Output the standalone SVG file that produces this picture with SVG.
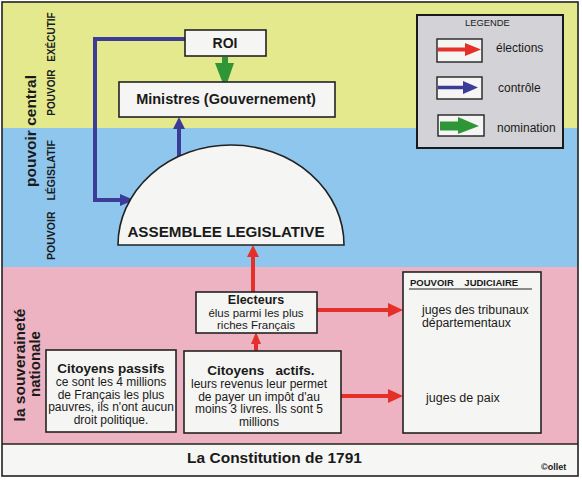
<svg xmlns="http://www.w3.org/2000/svg" width="582" height="480" viewBox="0 0 582 480">
<style>
text{font-family:"Liberation Sans",Arial,sans-serif;fill:#1a1a1a}
.b{font-weight:bold}
.box{fill:#f5f5f3;stroke:#222;stroke-width:1.6}
.red{stroke:#e5302a;stroke-width:4;fill:none}
.blue{stroke:#3a3c98;stroke-width:4;fill:none}
.green{stroke:#2f9638;stroke-width:6;fill:none}
.rh{fill:#e5302a}.bh{fill:#3a3c98}.gh{fill:#2f9638}
.t12{font-size:12px}
.mid{text-anchor:middle}
</style>
<!-- bands -->
<rect x="2" y="2" width="576" height="126" fill="#e4e98e"/>
<rect x="2" y="128" width="576" height="139" fill="#8fc6ee"/>
<rect x="2" y="267" width="576" height="177" fill="#edb3c2"/>
<rect x="2" y="444" width="576" height="32" fill="#f6f6f4"/>
<rect x="2" y="2" width="576" height="474" fill="none" stroke="#222" stroke-width="1.6"/>
<line x1="2" y1="444" x2="578" y2="444" stroke="#222" stroke-width="1.6"/>

<!-- side labels -->
<text class="b" font-size="15.5" text-anchor="middle" transform="translate(36,131) rotate(-90)">pouvoir central</text>
<text class="b" font-size="10" text-anchor="middle" word-spacing="5" transform="translate(55,64) rotate(-90)">POUVOIR EXÉCUTIF</text>
<text class="b" font-size="10.5" text-anchor="middle" word-spacing="8" transform="translate(55,200) rotate(-90)">POUVOIR LÉGISLATIF</text>
<text class="b" font-size="15.5" text-anchor="middle" transform="translate(25,365) rotate(-90)">la souveraineté</text>
<text class="b" font-size="15" text-anchor="middle" transform="translate(40,364) rotate(-90)">nationale</text>

<!-- connectors -->
<g id="connectors">
<path class="blue" d="M185,39 H95 V200 H121"/>
<path class="bh" d="M120,194 L134,200 L120,206 Z"/>
<path class="blue" d="M179,158 V128"/>
<path class="bh" d="M173,129 L179,117 L185,129 Z"/>
<path class="green" d="M225,57 V64"/>
<path class="gh" d="M215,63 L234,63 L225,89 Z"/>
<path class="red" d="M253,292 V256"/>
<path class="rh" d="M247,257 L253,245 L259,257 Z"/>
<path class="red" d="M256,351 V343"/>
<path class="rh" d="M251,344 L256,332 L261,344 Z"/>
<path class="red" d="M317,310 H389"/>
<path class="rh" d="M388,303 L403,310 L388,317 Z"/>
<path class="red" d="M341,396 H389"/>
<path class="rh" d="M388,389 L403,396 L388,403 Z"/>
</g>

<!-- ROI -->
<g id="roi">
<rect class="box" x="185" y="30" width="81" height="26"/>
<text class="b mid" font-size="14" x="225" y="48">ROI</text>
</g>
<!-- Ministres -->
<g id="ministres">
<rect class="box" x="119" y="82" width="216" height="35"/>
<text class="b mid" font-size="14.5" x="226" y="104">Ministres (Gouvernement)</text>
</g>
<!-- Assemblee -->
<g id="assemblee">
<path d="M118,245 A113,100 0 0 1 344,245 Z" fill="#f5f5f3" stroke="#222" stroke-width="1.6"/>
<text class="b mid" font-size="15.2" x="226" y="237">ASSEMBLEE LEGISLATIVE</text>
</g>
<!-- Electeurs -->
<g id="electeurs">
<rect class="box" x="196" y="292" width="121" height="41"/>
<text class="b mid" font-size="12.5" x="256" y="304">Electeurs</text>
<text class="mid" font-size="11.5" x="256" y="316.5">élus parmi les plus</text>
<text class="mid" font-size="11.5" x="256" y="328.5">riches Français</text>
</g>
<!-- Citoyens passifs -->
<g id="passifs">
<rect class="box" x="46" y="350" width="130" height="82"/>
<text class="b mid" font-size="13.5" x="111" y="373">Citoyens passifs</text>
<text class="t12 mid" x="111" y="386">ce sont les 4 millions</text>
<text class="t12 mid" x="111" y="398.5">de Français les plus</text>
<text class="t12 mid" x="111" y="411">pauvres, ils n'ont aucun</text>
<text class="t12 mid" x="111" y="423.5">droit politique.</text>
</g>
<!-- Citoyens actifs -->
<g id="actifs">
<rect class="box" x="184" y="351" width="157" height="82"/>
<text class="b mid" font-size="13.5" x="261" y="375" xml:space="preserve">Citoyens   actifs.</text>
<text class="t12 mid" x="259" y="388">leurs revenus leur permet</text>
<text class="t12 mid" x="259" y="400.5">de payer un impôt d'au</text>
<text class="t12 mid" x="259" y="413">moins 3 livres. Ils sont 5</text>
<text class="t12 mid" x="259" y="425.5">millions</text>
</g>
<!-- Judiciaire -->
<g id="judiciaire">
<rect class="box" x="403" y="272" width="138" height="161"/>
<text class="b" font-size="9.5" x="410" y="286" xml:space="preserve">POUVOIR    JUDICIAIRE</text>
<line x1="409" y1="289" x2="532" y2="289" stroke="#222" stroke-width="1.2"/>
<text font-size="12.3" x="422" y="314">juges des tribunaux</text>
<text font-size="12.3" x="422" y="327">départementaux</text>
<text font-size="12.5" x="426" y="402">juges de paix</text>
</g>
<!-- Legende -->
<g id="legende">
<rect x="417" y="15" width="146" height="133" fill="#d3d2d6" stroke="#1a1a1a" stroke-width="2"/>
<text font-size="9.4" x="465" y="26">LEGENDE</text>
<rect x="437" y="39" width="45" height="23" fill="#f5f5f3" stroke="#222" stroke-width="1.4"/>
<path d="M438,49.5 H466" stroke="#e5302a" stroke-width="4"/>
<path class="rh" d="M465,43 L481,49.5 L465,56 Z"/>
<rect x="437" y="77" width="45" height="22" fill="#f5f5f3" stroke="#222" stroke-width="1.4"/>
<path d="M438,87.5 H464" stroke="#3a3c98" stroke-width="3.5"/>
<path class="bh" d="M463,81 L478,87.5 L463,94 Z"/>
<rect x="438" y="115" width="46" height="21" fill="#f5f5f3" stroke="#222" stroke-width="1.4"/>
<path d="M440,126 H459" stroke="#2f9638" stroke-width="9"/>
<path class="gh" d="M458,117 L479,126 L458,134 Z"/>
<text class="t12" x="496" y="52">élections</text>
<text class="t12" x="498" y="92">contrôle</text>
<text class="t12" x="497" y="132">nomination</text>
</g>

<!-- bottom -->
<text class="b mid" font-size="15.5" x="274.5" y="463">La Constitution de 1791</text>
<text class="b" font-size="9" x="541" y="470">©ollet</text>
</svg>
